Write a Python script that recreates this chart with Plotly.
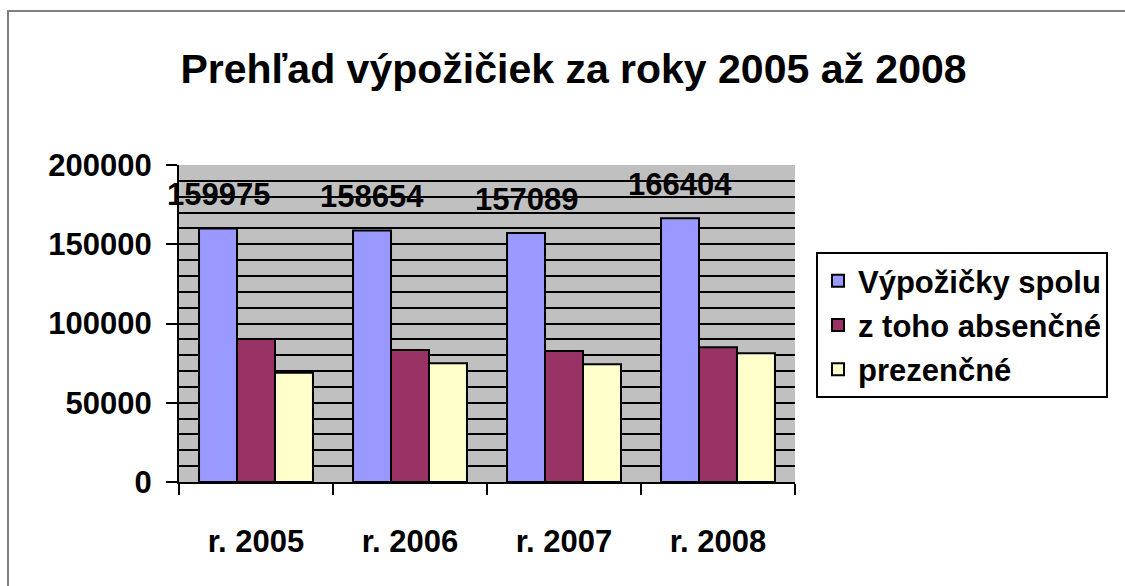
import plotly.graph_objects as go

categories = ["r. 2005", "r. 2006", "r. 2007", "r. 2008"]
series_names = ["Výpožičky spolu", "z toho absenčné", "prezenčné"]
spolu = [159975, 158654, 157089, 166404]
absencne = [90200, 83300, 82700, 85000]
prezencne = [69000, 74900, 74300, 81200]
colors = ["#9999FF", "#993366", "#FFFFCC"]

W, H = 1125, 586
L, R, T, B = 179, 330, 165, 104
bargap = 0.26
FONT = "Liberation Sans, Arial, sans-serif"

fig = go.Figure()
for i, (name, vals) in enumerate(zip(series_names, [spolu, absencne, prezencne])):
    fig.add_trace(go.Bar(
        x=categories, y=vals, name=name, legendgroup=name,
        marker=dict(color=colors[i], line=dict(color="black", width=2)),
        hoverinfo="x+y+name",
    ))

plot_w = W - L - R
cat_px = plot_w / len(categories)
xshift = -(1 - bargap) * cat_px / 3

annotations = []
for c, v in zip(categories, spolu):
    annotations.append(dict(
        x=c, y=v, xref="x", yref="y", text=str(v), showarrow=False,
        xshift=xshift, yshift=34, yanchor="middle",
        font=dict(family=FONT, size=31, color="black", weight="bold"),
    ))

fig.update_layout(
    width=W, height=H,
    margin=dict(l=L, r=R, t=T, b=B, autoexpand=False),
    paper_bgcolor="white", plot_bgcolor="#C0C0C0",
    barmode="group", bargap=bargap, bargroupgap=0,
    font=dict(family=FONT, size=31, color="black", weight="bold"),
    title=dict(
        text="Prehľad výpožičiek za roky 2005 až 2008",
        font=dict(family=FONT, size=41, color="black", weight="bold"),
        x=573.5 / W, xanchor="center", xref="container",
        y=1 - 69 / H, yanchor="middle", yref="container",
    ),
    legend=dict(
        x=(816 - L) / plot_w, xanchor="left",
        y=(H - B - 252) / (H - T - B), yanchor="top",
        bgcolor="white", bordercolor="black", borderwidth=2,
        font=dict(family=FONT, size=31, color="black", weight="bold"),
        traceorder="grouped", tracegroupgap=1,
    ),
    annotations=annotations,
    shapes=[dict(
        type="rect", xref="paper", yref="paper",
        x0=(8 - L) / plot_w, x1=2.0,
        y0=-1.0, y1=(H - B - 11) / (H - T - B),
        line=dict(color="#808080", width=2), fillcolor="rgba(0,0,0,0)",
        layer="below",
    )],
)

fig.update_yaxes(
    range=[0, 200000], dtick=50000, tick0=0, tickformat="d",
    showgrid=True, gridcolor="black", gridwidth=2,
    minor=dict(dtick=10000, showgrid=True, gridcolor="black", gridwidth=2, ticks=""),
    ticks="outside", ticklen=11, tickwidth=2, tickcolor="black",
    showline=True, linecolor="black", linewidth=2,
    zeroline=False, ticklabelstandoff=8,
    tickfont=dict(family=FONT, size=31, color="black", weight="bold"),
)
fig.update_xaxes(
    type="category", tickson="boundaries",
    range=[-0.5, len(categories) - 0.5],
    ticks="outside", ticklen=11, tickwidth=2, tickcolor="black",
    showline=True, linecolor="black", linewidth=2,
    showgrid=False, ticklabelstandoff=31,
    tickfont=dict(family=FONT, size=31, color="black", weight="bold"),
)

fig.write_html("out.html", config={"displayModeBar": False},
               post_script="document.body.style.margin='0';")
